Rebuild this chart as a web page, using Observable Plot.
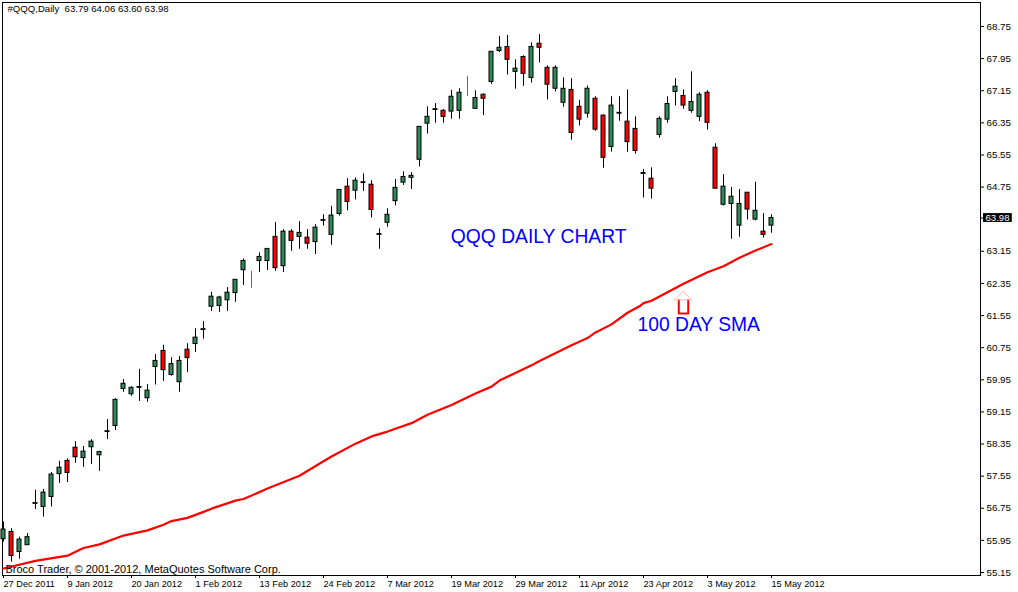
<!DOCTYPE html>
<html><head><meta charset="utf-8">
<script src="https://cdn.jsdelivr.net/npm/d3@7"></script>
<script src="https://cdn.jsdelivr.net/npm/@observablehq/plot@0.6"></script>
<style>html,body{margin:0;padding:0;background:#fff}svg{display:block}</style>
</head><body><div id="chart"></div>
<script>
const opens=[55.98,56.16,55.66,55.83,56.86,56.78,57.03,57.60,57.93,58.26,58.00,58.27,58.07,58.65,58.80,59.72,59.59,59.75,59.49,60.27,60.67,60.07,59.89,60.70,60.84,61.19,
61.77,61.79,61.93,62.11,62.68,62.47,62.91,62.91,63.51,62.78,63.64,63.51,63.49,63.38,63.91,63.56,64.08,64.76,64.66,64.85,64.81,63.56,63.86,64.40,64.86,64.98,
65.43,66.33,66.67,66.65,66.63,66.65,67.12,66.70,67.05,67.37,68.14,68.24,67.62,67.99,67.47,68.32,67.72,67.20,66.85,67.17,66.75,66.58,66.95,66.53,65.75,66.58,
66.38,66.20,65.08,64.96,66.05,66.43,67.12,67.02,66.65,66.50,67.10,65.73,64.31,64.33,63.79,64.61,63.94,63.64,63.79];
const highs=[56.41,56.24,56.03,56.12,57.20,57.22,57.64,57.92,57.98,58.41,58.29,58.46,58.17,58.96,59.48,59.96,59.78,60.21,59.83,60.58,60.81,60.50,60.53,60.85,61.22,61.40,
62.13,62.03,62.25,62.44,62.96,62.65,63.11,63.21,63.87,63.69,63.69,63.89,63.69,63.81,64.06,64.27,64.68,64.96,64.98,65.08,64.91,63.71,64.21,64.94,65.13,65.11,
66.25,66.75,66.83,66.68,67.16,67.20,67.51,67.15,67.07,68.12,68.50,68.53,67.92,68.02,68.34,68.55,67.77,67.77,67.47,67.45,66.91,67.27,67.00,66.55,67.00,67.00,
67.17,66.50,65.19,65.23,66.50,67.00,67.45,67.17,67.62,67.10,67.15,65.83,65.06,64.74,64.69,64.61,64.87,64.09,64.06];
const lows=[55.91,55.41,55.48,55.83,56.72,56.53,56.78,57.37,57.39,57.87,57.77,57.84,57.67,58.46,58.69,59.64,59.54,59.41,59.39,59.82,59.91,60.04,59.64,60.13,60.63,60.96,
61.65,61.63,61.65,61.88,62.30,62.23,62.62,62.67,62.65,62.62,63.15,63.20,63.20,63.07,63.78,63.30,64.03,64.16,64.43,64.64,63.98,63.20,63.75,64.28,64.79,64.69,
65.25,66.07,66.34,66.34,66.44,66.44,67.01,66.70,66.53,67.31,68.10,67.54,67.19,67.26,67.34,67.84,66.92,67.12,66.74,65.92,66.27,66.47,66.14,65.22,65.62,66.39,
65.62,65.57,64.48,64.45,65.97,66.34,66.77,66.69,66.59,66.38,66.17,64.71,64.28,63.45,63.50,63.93,63.91,63.48,63.60];
const closes=[56.22,55.56,55.97,56.03,56.88,57.14,57.59,57.76,57.63,58.02,58.16,58.41,58.15,58.67,59.45,59.85,59.75,59.77,59.68,60.42,60.19,60.34,60.42,60.49,61.00,61.21,
62.02,62.00,62.12,62.44,62.91,62.47,63.01,63.21,62.73,63.64,63.41,63.61,63.34,63.74,63.93,64.04,64.68,64.38,64.91,64.87,64.18,63.58,64.06,64.73,65.00,65.03,
66.25,66.50,66.69,66.50,67.00,67.10,67.12,66.97,66.95,68.12,68.22,67.92,67.70,67.57,68.24,68.22,67.30,67.72,67.20,66.10,66.43,67.20,66.18,65.48,66.78,66.60,
65.87,65.65,65.10,64.71,66.45,66.82,67.25,66.78,66.87,67.05,66.35,64.71,64.76,64.51,64.33,64.19,64.16,63.56,63.98];

const smaIndex=[0,4,8,10,12,15,18,20,21,23,25,26,29,30,33,37,40,41,44,46,48,51,53,56,59,61,62,66,67,71,73,74,76,78,79.5,80,81,83,85,88,90,92,94,96];
const smaValues=[55.25,55.44,55.57,55.76,55.85,56.07,56.20,56.34,56.43,56.51,56.66,56.74,56.94,56.98,57.24,57.56,57.92,58.04,58.36,58.54,58.66,58.87,59.08,59.32,59.61,59.78,59.93,60.31,60.42,60.81,60.99,61.13,61.33,61.62,61.78,61.86,61.92,62.13,62.34,62.63,62.78,62.99,63.17,63.33];

const yTicks=[68.75,67.95,67.15,66.35,65.55,64.75,63.15,62.35,61.55,60.75,59.95,59.15,58.35,57.55,56.75,55.95,55.15];
const xTickIndex=[0,8,16,24,32,40,48,56,64,72,80,88,96];
const xTickLabels=["27 Dec 2011","9 Jan 2012","20 Jan 2012","1 Feb 2012","13 Feb 2012","24 Feb 2012","7 Mar 2012","19 Mar 2012","29 Mar 2012","11 Apr 2012","23 Apr 2012","3 May 2012","15 May 2012"];

const lastClose=63.98;
const arrowShaftI=[84.41,84.41,85.59,85.59];
const arrowShaftP=[61.94,61.60,61.60,61.94];
const arrowHeadI=[83.875,84.96,86.04,83.875];
const arrowHeadP=[61.94,62.15,61.94,61.94];

const GREEN="#2E8B57", RED="#FF0000";
const FONT="'Liberation Sans',Arial,sans-serif";
const candles=opens.map((o,i)=>({i,o,h:highs[i],l:lows[i],c:closes[i]}));
const sma=smaIndex.map((i,k)=>({i,v:smaValues[k]}));
const shaft=arrowShaftI.map((i,k)=>({i,v:arrowShaftP[k]}));
const head=arrowHeadI.map((i,k)=>({i,v:arrowHeadP[k]}));
const flat=d=>d.o===d.c;

const chart=Plot.plot({
  width:1018,height:592,
  marginLeft:2,marginRight:38,marginTop:2,marginBottom:17,
  style:{background:"#fff",fontFamily:FONT,fontSize:"10px",color:"#000"},
  x:{type:"linear",domain:[0,96],range:[3,771],axis:null},
  y:{type:"linear",domain:[55.15,68.75],range:[572,26],axis:null},
  marks:[
    Plot.frame({stroke:"#000",strokeWidth:1}),
    Plot.axisY(yTicks,{anchor:"right",tickSize:3,tickPadding:3,label:null,tickFormat:d=>d.toFixed(2),fontSize:9.8,stroke:"#000",fill:"#000"}),
    Plot.axisX(xTickIndex,{anchor:"bottom",tickSize:3,tickPadding:2,label:null,textAnchor:"start",tickFormat:d=>xTickLabels[xTickIndex.indexOf(d)],fontSize:9.2,stroke:"#000",fill:"#000"}),
    Plot.ruleX(candles,{x:"i",y1:"l",y2:"h",stroke:d=>flat(d)?GREEN:"#000",strokeWidth:1}),
    Plot.rect(candles,{x1:d=>d.i-0.25,x2:d=>d.i+0.25,y1:"o",y2:"c",
      fill:d=>d.c>=d.o?GREEN:RED,stroke:d=>flat(d)?GREEN:"#000",strokeWidth:1}),
    Plot.line(sma,{x:"i",y:"v",stroke:RED,strokeWidth:2.2}),
    Plot.line(shaft,{x:"i",y:"v",stroke:RED,strokeWidth:2}),
    Plot.line(head,{x:"i",y:"v",stroke:"#ffb4b4",strokeWidth:1}),
    Plot.text(["QQQ DAILY CHART"],{x:[66.9],y:[63.52],fill:"#0000ff",fontSize:19.3,fontFamily:FONT}),
    Plot.text(["100 DAY SMA"],{x:[86.9],y:[61.33],fill:"#0000ff",fontSize:19.3,fontFamily:FONT}),
    Plot.text(["#QQQ,Daily  63.79 64.06 63.60 63.98"],{frameAnchor:"top-left",dx:5,dy:3,fill:"#000",fontSize:9.6,fontFamily:FONT}),
    Plot.text(["Broco Trader, © 2001-2012, MetaQuotes Software Corp."],{frameAnchor:"bottom-left",dx:3,dy:-3,fill:"#000",fontSize:11,fontFamily:FONT}),
    Plot.rect([lastClose],{x1:122.5,x2:126.1,y1:d=>d-0.11,y2:d=>d+0.11,fill:"#000"}),
    Plot.ruleY([lastClose],{x1:122.2,x2:122.6,stroke:"#000"}),
    Plot.text([lastClose],{x:122.75,y:d=>d,text:d=>d.toFixed(2),textAnchor:"start",fill:"#fff",fontSize:9.6,fontFamily:FONT})
  ]
});
document.getElementById("chart").append(chart);
</script></body></html>
